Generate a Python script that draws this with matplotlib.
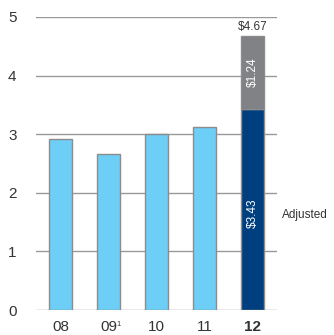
import matplotlib
matplotlib.use("Agg")
import matplotlib.pyplot as plt

plt.rcParams['font.family'] = ['Liberation Sans', 'DejaVu Sans']

years = ['08', '09', '10', '11', '12']
eps = [2.91, 2.67, 3.01, 3.12, 3.43]
extra_12 = 1.24
total_12 = 4.67
yticks = [0, 1, 2, 3, 4, 5]

light_blue = '#6dcff6'
dark_blue = '#003f7f'
grey = '#808285'
edge = '#8c8c8c'
text_col = '#333333'

fig = plt.figure(figsize=(3.34, 3.35), dpi=100)
ax = fig.add_axes([36 / 334, 25 / 335, 241 / 334, 293 / 335])

x = list(range(len(years)))
colors = [light_blue] * 4 + [dark_blue]
ax.bar(x, eps, width=0.48, color=colors, edgecolor=edge, linewidth=1, zorder=3)
ax.bar(x[-1], extra_12, bottom=eps[-1], width=0.48, color=grey, edgecolor=edge,
       linewidth=1, zorder=3)

# labels on the 2012 bar
ax.text(x[-1], total_12 + 0.05, '$4.67', ha='center', va='bottom', fontsize=8.5,
        color=text_col)
ax.text(x[-1], eps[-1] + extra_12 / 2, '$1.24', ha='center', va='center',
        rotation=90, fontsize=8.5, color='white', zorder=4)
ax.text(x[-1], 1.65, '$3.43', ha='center', va='center', rotation=90,
        fontsize=8.5, color='white', zorder=4)
ax.text(4.62, 1.62, 'Adjusted', ha='left', va='center', fontsize=8.5,
        color=text_col, clip_on=False)

ax.set_xlim(-0.51, 4.51)
ax.set_ylim(0, 5)
ax.set_yticks(yticks)
ax.set_yticklabels([str(t) for t in yticks], fontsize=11, color=text_col)
ax.set_xticks(x)
ax.set_xticklabels(years, fontsize=11, color=text_col)
ax.get_xticklabels()[-1].set_fontweight('bold')
ax.tick_params(length=0, axis='y', pad=14)
ax.tick_params(length=0, axis='x', pad=7)

# footnote marker on 09
ax.annotate('1', xy=(1, 0), xytext=(6, -8), textcoords='offset points',
            fontsize=5.5, color=text_col, ha='left', va='top',
            annotation_clip=False)

ax.yaxis.grid(True, color='#999999', linewidth=1)
ax.set_axisbelow(True)
for s in ax.spines.values():
    s.set_visible(False)

fig.savefig('out.png', dpi=100)
